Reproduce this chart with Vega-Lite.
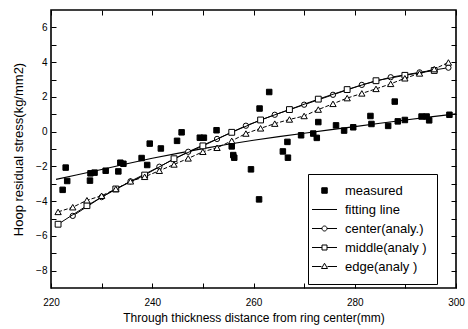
{
  "$schema": "https://vega.github.io/schema/vega-lite/v6.json",
  "width": 405,
  "height": 278,
  "autosize": {"type": "none"},
  "padding": {"left": 51, "top": 10, "right": 12, "bottom": 41},
  "background": "white",
  "config": {
    "view": {"stroke": "black", "strokeWidth": 1.6},
    "font": "Liberation Sans",
    "axis": {"grid": false, "domain": false, "tickColor": "black", "labelColor": "black", "titleColor": "black", "labelFont": "Liberation Sans", "titleFont": "Liberation Sans", "titleFontWeight": "normal", "tickWidth": 1}
  },
  "datasets": {
    "measured": [
      {"x": 222.3, "y": -3.35, "series": "measured"},
      {"x": 222.9, "y": -2.07, "series": "measured"},
      {"x": 223.2, "y": -2.84, "series": "measured"},
      {"x": 227.7, "y": -2.82, "series": "measured"},
      {"x": 227.8, "y": -2.4, "series": "measured"},
      {"x": 228.6, "y": -2.36, "series": "measured"},
      {"x": 230.8, "y": -2.25, "series": "measured"},
      {"x": 233.3, "y": -2.29, "series": "measured"},
      {"x": 233.7, "y": -1.79, "series": "measured"},
      {"x": 234.3, "y": -1.85, "series": "measured"},
      {"x": 237.9, "y": -1.52, "series": "measured"},
      {"x": 239.0, "y": -1.92, "series": "measured"},
      {"x": 239.5, "y": -0.69, "series": "measured"},
      {"x": 241.7, "y": -0.97, "series": "measured"},
      {"x": 244.9, "y": -0.53, "series": "measured"},
      {"x": 245.8, "y": -0.04, "series": "measured"},
      {"x": 249.4, "y": -0.35, "series": "measured"},
      {"x": 250.2, "y": -0.35, "series": "measured"},
      {"x": 252.7, "y": 0.08, "series": "measured"},
      {"x": 255.7, "y": -0.85, "series": "measured"},
      {"x": 256.0, "y": -1.35, "series": "measured"},
      {"x": 256.2, "y": -1.5, "series": "measured"},
      {"x": 259.5, "y": -2.17, "series": "measured"},
      {"x": 261.1, "y": -3.9, "series": "measured"},
      {"x": 261.2, "y": 1.33, "series": "measured"},
      {"x": 263.1, "y": 2.28, "series": "measured"},
      {"x": 265.8, "y": -1.14, "series": "measured"},
      {"x": 266.8, "y": -1.5, "series": "measured"},
      {"x": 266.7, "y": -0.59, "series": "measured"},
      {"x": 269.4, "y": -0.21, "series": "measured"},
      {"x": 271.8, "y": -0.11, "series": "measured"},
      {"x": 272.5, "y": -0.36, "series": "measured"},
      {"x": 272.8, "y": 0.55, "series": "measured"},
      {"x": 276.3, "y": 0.36, "series": "measured"},
      {"x": 277.9, "y": 0.06, "series": "measured"},
      {"x": 279.7, "y": 0.25, "series": "measured"},
      {"x": 283.1, "y": 0.9, "series": "measured"},
      {"x": 283.3, "y": 0.44, "series": "measured"},
      {"x": 286.6, "y": 0.33, "series": "measured"},
      {"x": 287.9, "y": 1.73, "series": "measured"},
      {"x": 288.5, "y": 0.59, "series": "measured"},
      {"x": 289.9, "y": 0.67, "series": "measured"},
      {"x": 293.2, "y": 0.87, "series": "measured"},
      {"x": 294.2, "y": 0.87, "series": "measured"},
      {"x": 294.7, "y": 0.65, "series": "measured"},
      {"x": 298.7, "y": 0.97, "series": "measured"}
    ],
    "fit": [
      {"x": 221, "y": -2.75}, {"x": 225, "y": -2.5}, {"x": 230, "y": -2.18},
      {"x": 235, "y": -1.85}, {"x": 240, "y": -1.53}, {"x": 245, "y": -1.25},
      {"x": 250, "y": -0.98}, {"x": 255, "y": -0.73}, {"x": 260, "y": -0.5},
      {"x": 265, "y": -0.29}, {"x": 270, "y": -0.09}, {"x": 275, "y": 0.1},
      {"x": 280, "y": 0.29}, {"x": 285, "y": 0.48}, {"x": 290, "y": 0.67},
      {"x": 295, "y": 0.85}, {"x": 300, "y": 1.02}
    ],
    "center": [
      {"x": 224.3, "y": -4.85}, {"x": 230.0, "y": -3.77}, {"x": 235.7, "y": -2.86},
      {"x": 241.4, "y": -2.02}, {"x": 247.1, "y": -1.16}, {"x": 252.8, "y": -0.42},
      {"x": 258.5, "y": 0.34}, {"x": 264.2, "y": 0.97}, {"x": 270.0, "y": 1.55},
      {"x": 275.7, "y": 2.12}, {"x": 281.4, "y": 2.69}, {"x": 287.1, "y": 3.13},
      {"x": 292.8, "y": 3.41}, {"x": 298.5, "y": 3.68}
    ],
    "middle": [
      {"x": 221.4, "y": -5.33}, {"x": 227.1, "y": -4.26}, {"x": 232.8, "y": -3.3},
      {"x": 238.5, "y": -2.5}, {"x": 244.3, "y": -1.56}, {"x": 250.0, "y": -0.82},
      {"x": 255.7, "y": -0.04}, {"x": 261.4, "y": 0.67}, {"x": 267.1, "y": 1.27},
      {"x": 272.8, "y": 1.87}, {"x": 278.5, "y": 2.42}, {"x": 284.2, "y": 2.93},
      {"x": 289.9, "y": 3.24}, {"x": 295.7, "y": 3.52}
    ],
    "edge": [
      {"x": 221.4, "y": -4.62}, {"x": 224.3, "y": -4.35}, {"x": 227.1, "y": -3.95},
      {"x": 230.0, "y": -3.69}, {"x": 232.8, "y": -3.3}, {"x": 235.7, "y": -2.86},
      {"x": 238.5, "y": -2.6}, {"x": 241.4, "y": -2.25}, {"x": 244.3, "y": -1.89},
      {"x": 247.1, "y": -1.54}, {"x": 250.0, "y": -1.16}, {"x": 252.8, "y": -0.93},
      {"x": 255.7, "y": -0.53}, {"x": 258.5, "y": -0.11}, {"x": 261.4, "y": 0.19},
      {"x": 264.2, "y": 0.46}, {"x": 267.1, "y": 0.7}, {"x": 270.0, "y": 0.9},
      {"x": 272.8, "y": 1.27}, {"x": 275.7, "y": 1.6}, {"x": 278.5, "y": 1.93},
      {"x": 281.4, "y": 2.2}, {"x": 284.2, "y": 2.46}, {"x": 287.1, "y": 2.75},
      {"x": 289.9, "y": 3.07}, {"x": 292.8, "y": 3.35}, {"x": 295.7, "y": 3.6},
      {"x": 298.5, "y": 3.98}
    ]
  },
  "resolve": {"axis": {"x": "independent", "y": "independent"}},
  "layer": [
    {
      "data": {"name": "fit"},
      "mark": {"type": "line", "color": "black", "strokeWidth": 1.1},
      "encoding": {
        "x": {"field": "x", "type": "quantitative", "scale": {"domain": [220, 300], "nice": false, "zero": false},
          "axis": {"orient": "bottom", "values": [220, 230, 240, 250, 260, 270, 280, 290, 300], "labelExpr": "datum.value % 20 == 0 ? datum.label : ''", "tickSize": -5, "labelPadding": 14, "labelFontSize": 10, "labelFlush": false, "title": "Through thickness distance from ring center(mm)", "titleFontSize": 12, "titlePadding": 5}},
        "y": {"field": "y", "type": "quantitative", "scale": {"domain": [-9, 7], "nice": false, "zero": false},
          "axis": {"orient": "left", "values": [-8, -7, -6, -5, -4, -3, -2, -1, 0, 1, 2, 3, 4, 5, 6], "labelExpr": "datum.value % 2 == 0 ? datum.label : ''", "tickSize": -5, "labelPadding": 9, "labelFontSize": 10, "title": "Hoop residual stress(kg/mm2)", "titleFontSize": 13, "titlePadding": 10}}
      }
    },
    {
      "data": {"name": "center"},
      "mark": {"type": "line", "color": "black", "strokeWidth": 1, "point": {"shape": "circle", "size": 28, "filled": true, "fill": "white", "stroke": "black", "strokeWidth": 1, "opacity": 1}},
      "encoding": {
        "x": {"field": "x", "type": "quantitative", "axis": {"orient": "top", "values": [220, 230, 240, 250, 260, 270, 280, 290, 300], "labels": false, "tickSize": -5, "title": null}},
        "y": {"field": "y", "type": "quantitative", "axis": {"orient": "right", "values": [-8, -7, -6, -5, -4, -3, -2, -1, 0, 1, 2, 3, 4, 5, 6], "labels": false, "tickSize": -5, "title": null}}
      }
    },
    {
      "data": {"name": "middle"},
      "mark": {"type": "line", "color": "black", "strokeWidth": 1, "point": {"shape": "square", "size": 34, "filled": true, "fill": "white", "stroke": "black", "strokeWidth": 1, "opacity": 1}},
      "encoding": {
        "x": {"field": "x", "type": "quantitative", "axis": null},
        "y": {"field": "y", "type": "quantitative", "axis": null}
      }
    },
    {
      "data": {"name": "edge"},
      "mark": {"type": "line", "color": "black", "strokeWidth": 1, "strokeDash": [4, 2], "point": {"shape": "triangle-up", "size": 40, "filled": true, "fill": "white", "stroke": "black", "strokeWidth": 1, "opacity": 1}},
      "encoding": {
        "x": {"field": "x", "type": "quantitative", "axis": null},
        "y": {"field": "y", "type": "quantitative", "axis": null}
      }
    },
    {
      "data": {"name": "measured"},
      "mark": {"type": "point", "filled": true, "strokeWidth": 1, "opacity": 1, "size": 100},
      "encoding": {
        "x": {"field": "x", "type": "quantitative", "axis": null},
        "y": {"field": "y", "type": "quantitative", "axis": null},
        "shape": {"field": "series", "type": "nominal",
          "scale": {"domain": ["measured", "fitting line", "center(analy.)", "middle(analy )", "edge(analy )"],
            "range": ["M-0.55,-0.55H0.55V0.55H-0.55Z", "M-2.5,0H2.5", "M-2.5,0H-0.5M0.5,0H2.5M0.5,0A0.5,0.5 0 1 1 -0.5,0A0.5,0.5 0 1 1 0.5,0Z", "M-2.5,0H-0.5M0.5,0H2.5M-0.5,-0.5H0.5V0.5H-0.5Z", "M-2.5,0H-0.6M0.6,0H2.5M0,-0.65L0.6,0.4H-0.6Z"]},
          "legend": {"orient": "none", "legendX": 257, "legendY": 164, "title": null, "strokeColor": "black", "fillColor": "white", "padding": 10, "symbolSize": 100, "symbolStrokeWidth": 1, "labelFontSize": 13, "labelFont": "Liberation Sans", "labelColor": "black", "labelOffset": 14, "rowPadding": 5, "symbolOpacity": 1}},
        "fill": {"field": "series", "type": "nominal",
          "scale": {"domain": ["measured", "fitting line", "center(analy.)", "middle(analy )", "edge(analy )"],
            "range": ["black", "transparent", "white", "white", "white"]}},
        "stroke": {"field": "series", "type": "nominal",
          "scale": {"domain": ["measured", "fitting line", "center(analy.)", "middle(analy )", "edge(analy )"],
            "range": ["black", "black", "black", "black", "black"]}}
      }
    }
  ]
}
